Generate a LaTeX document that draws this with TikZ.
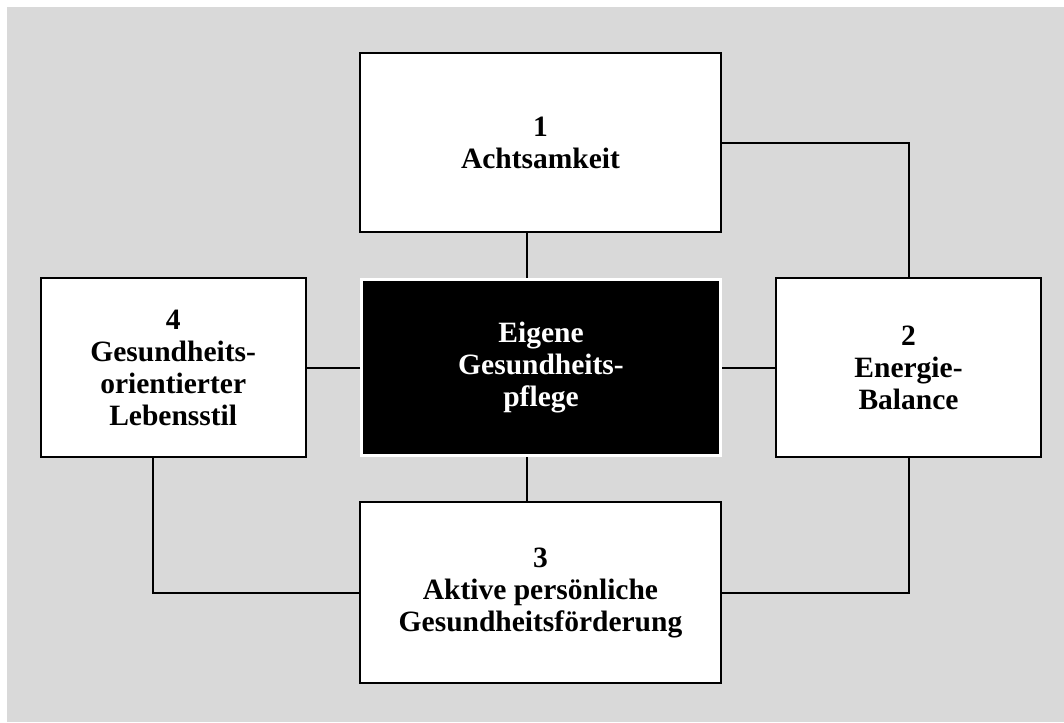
\documentclass[tikz,border=0pt]{standalone}
\usepackage{fontspec}
\setmainfont{Liberation Serif}
\begin{document}
\begin{tikzpicture}[x=1pt,y=-1pt,
  box/.style={draw=black,line width=2pt,fill=white,inner sep=0pt,align=center,
    font=\fontsize{29.5}{32}\selectfont\bfseries},
  core/.style={draw=white,line width=3pt,fill=black,text=white,inner sep=0pt,align=center,
    font=\fontsize{29.5}{32}\selectfont\bfseries},
  link/.style={draw=black,line width=2pt}]
\useasboundingbox (0,0) rectangle (1064,722);
\fill[white] (0,0) rectangle (1064,722);
\fill[fill={rgb,255:red,217;green,217;blue,217}] (7,7) rectangle (1064,722);
% nodes
\node[box,minimum width=361pt,minimum height=179pt] (b1) at (540.5,142.5) {1\\Achtsamkeit};
\node[core,minimum width=359pt,minimum height=176pt] (c) at (541,367.8) {Eigene\\Gesundheits-\\pflege};
\node[box,minimum width=265pt,minimum height=179pt] (b4) at (173.2,367.8) {4\\Gesundheits-\\orientierter\\Lebensstil};
\node[box,minimum width=265pt,minimum height=179pt] (b2) at (908.5,367.8) {2\\Energie-\\Balance};
\node[box,minimum width=361pt,minimum height=181pt] (b3) at (540.5,592.8) {3\\Aktive persönliche\\Gesundheitsförderung};
% helper coordinates
\coordinate (t1) at (526.7,0);
\coordinate (k1) at (909.3,143.3);
\coordinate (k4) at (153.3,592.7);
\coordinate (k2) at (909.3,592.7);
% connectors
\draw[link] (b1.south -| t1) -- (c.north -| t1);
\draw[link] (c.south -| t1) -- (b3.north -| t1);
\draw[link] (c.west) -- (b4.east);
\draw[link] (c.east) -- (b2.west);
\draw[link] (b1.east |- k1) -- (k1) -- (b2.north -| k1);
\draw[link] (b4.south -| k4) -- (k4) -- (b3.west |- k4);
\draw[link] (b2.south -| k2) -- (k2) -- (b3.east |- k2);
\end{tikzpicture}
\end{document}
